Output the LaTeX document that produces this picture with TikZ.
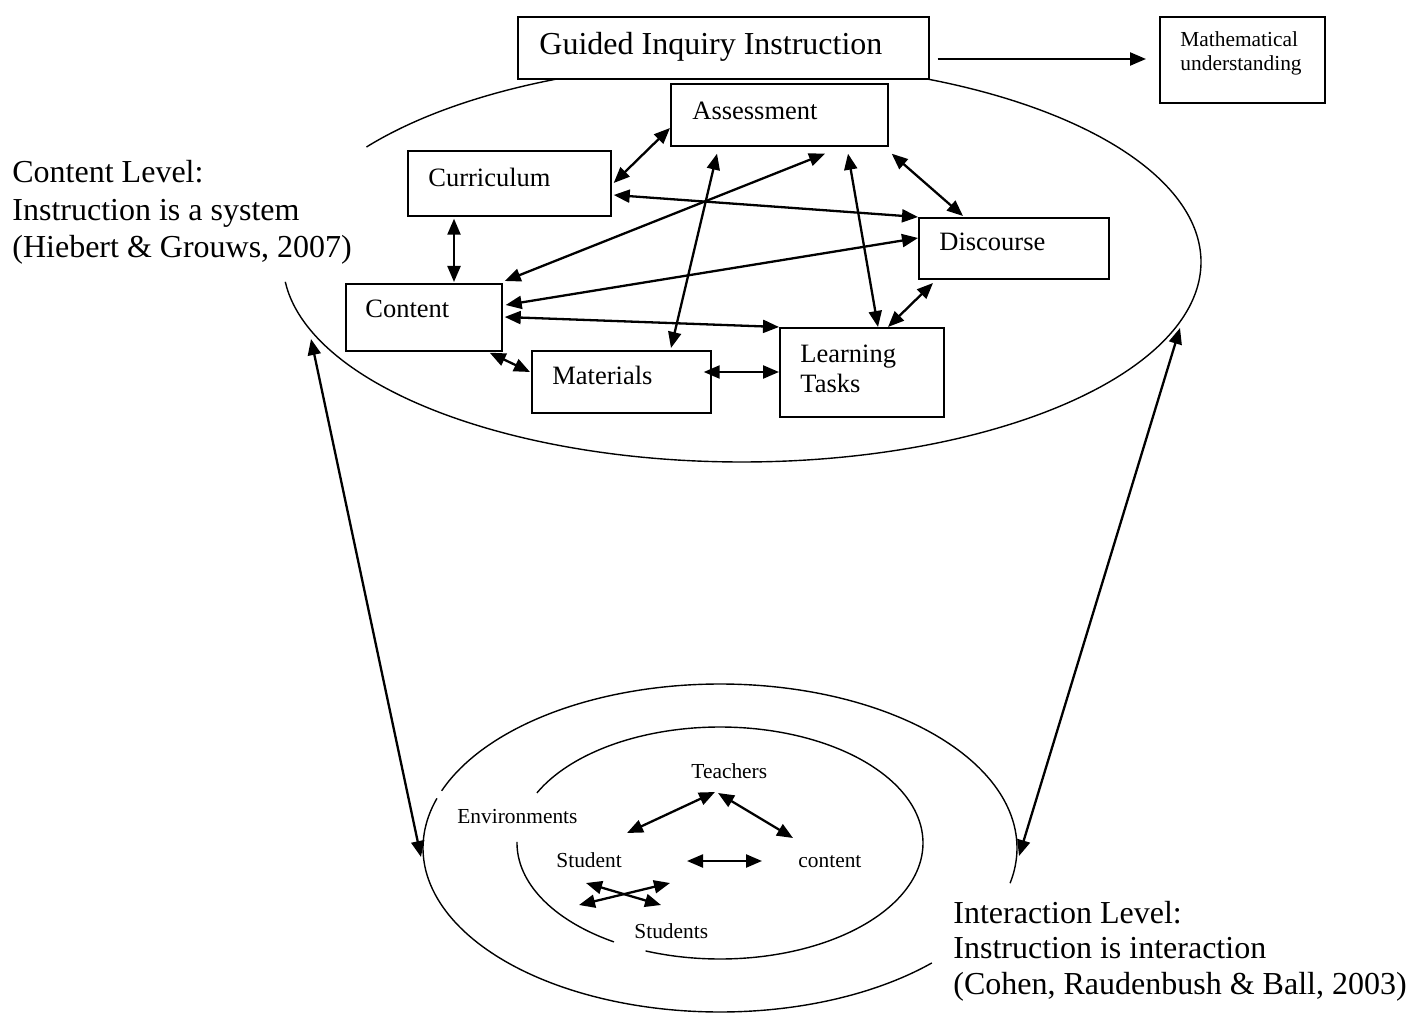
\documentclass[tikz,border=0pt]{standalone}
\usepackage{fontspec}
\setmainfont{Liberation Serif}
\usetikzlibrary{arrows.meta,calc}
\begin{document}
\begin{tikzpicture}[x=0.5pt,y=-0.5pt,
  box/.style={draw,line width=0.85pt,fill=white,rectangle,inner sep=0pt,anchor=north west},
  txt/.style={inner sep=0pt,anchor=base west},
  big/.style={txt,font=\fontsize{16}{18}\selectfont},
  mid/.style={txt,font=\fontsize{13.25}{15}\selectfont},
  small/.style={txt,font=\fontsize{10.7}{12}\selectfont},
  link/.style={line width=1.15pt,{Triangle[length=8pt,width=6.5pt]}-{Triangle[length=8pt,width=6.5pt]}},
  one/.style={line width=1.15pt,-{Triangle[length=8pt,width=6.5pt]}},
  rim/.style={line width=0.7pt}]
\useasboundingbox (0,0) rectangle (1423,1015);

% ---- ellipses (drawn with gaps where text boxes cover them)
\draw[rim] plot[domain=-66.9:174.3,samples=140,smooth] ({742+459*cos(\x)},{262+200*sin(\x)});
\draw[rim] plot[domain=215.1:246.9,samples=30,smooth] ({742+459*cos(\x)},{262+200*sin(\x)});
\draw[rim] plot[domain=44.5:197.6,samples=100,smooth] ({720+297*cos(\x)},{848+164*sin(\x)});
\draw[rim] plot[domain=200.4:372.4,samples=100,smooth] ({720+297*cos(\x)},{848+164*sin(\x)});
\draw[rim] plot[domain=121.5:180.5,samples=40,smooth] ({720+203*cos(\x)},{843+116*sin(\x)});
\draw[rim] plot[domain=205.6:471.5,samples=140,smooth] ({720+203*cos(\x)},{843+116*sin(\x)});

% ---- boxes
\node[box,minimum width=205.5pt,minimum height=31pt] (guided) at (517,16) {};
\node[box,minimum width=82.5pt,minimum height=43pt] (math) at (1159,16) {};
\node[box,minimum width=108.5pt,minimum height=31pt] (assess) at (670,83) {};
\node[box,minimum width=101.5pt,minimum height=32.5pt] (curr) at (407,150) {};
\node[box,minimum width=95pt,minimum height=30.5pt] (disc) at (918,217) {};
\node[box,minimum width=78pt,minimum height=33.5pt] (content) at (345,283) {};
\node[box,minimum width=89.5pt,minimum height=31pt] (mat) at (531,350) {};
\node[box,minimum width=82pt,minimum height=44.5pt] (lt) at (779,327) {};

% ---- box texts
\node[big] (guidedT) at (539,55) {Guided Inquiry Instruction};
\node[small] (mathT1) at (1180,47) {Mathematical};
\node[small] (mathT2) at (1180,71) {understanding};
\node[mid] (assessT) at (692,120) {Assessment};
\node[mid] (currT) at (428,187) {Curriculum};
\node[mid] (discT) at (939,251) {Discourse};
\node[mid] (contentT) at (365,318) {Content};
\node[mid] (matT) at (552,385) {Materials};
\node[mid] (ltT1) at (800,363) {Learning};
\node[mid] (ltT2) at (800,393) {Tasks};

% ---- side texts
\node[big] (cl1) at (12,183) {Content Level:};
\node[big] (cl2) at (12,221) {Instruction is a system};
\node[big] (cl3) at (12,258) {(Hiebert \& Grouws, 2007)};
\node[big] (il1) at (953,923) {Interaction Level:};
\node[big] (il2) at (953,958) {Instruction is interaction};
\node[big] (il3) at (953,994) {(Cohen, Raudenbush \& Ball, 2003)};

% ---- inner texts
\node[small] (teachersT) at (691,778) {Teachers};
\node[small] (envT) at (457,823) {Environments};
\node[small] (studentT) at (556,867) {Student};
\node[small] (contentS) at (798,867) {content};
\node[small] (studentsT) at (634,938) {Students};

% ---- connectors among boxes
\draw[one] ($(guided.north east)+(8,43)$) -- ($(math.north west)+(-13,43)$);
\draw[link] ($(assess.north west)+(0,45)$) -- ($(curr.north east)+(2,33)$);
\draw[link] ($(curr.north east)+(2,45)$) -- (disc.north west);
\draw[link] ($(curr.south west)+(47,2)$) -- ($(content.north west)+(109,-1)$);
\draw[link] ($(content.north east)+(2,-2)$) -- ($(assess.south west)+(155,7)$);
\draw[link] ($(content.north east)+(3,22)$) -- ($(disc.north west)+(0,21)$);
\draw[link] ($(content.north east)+(2,34)$) -- (lt.north west);
\draw[link] ($(content.south east)+(-13,1)$) -- ($(mat.north west)+(-1,22)$);
\draw[link] ($(mat.north east)+(-8,22)$) -- ($(lt.north west)+(0,45)$);
\draw[link] ($(mat.north west)+(140,-2)$) -- ($(assess.south west)+(47,7)$);
\draw[link] ($(lt.north west)+(99,0)$) -- ($(assess.south west)+(178,7)$);
\draw[link] ($(disc.north west)+(45,-1)$) -- ($(assess.south east)+(3,7)$);
\draw[link] ($(disc.north west)+(15,66)$) -- ($(lt.north west)+(109,0)$);

% ---- long connectors between the levels
\coordinate (eL) at (311,339);
\coordinate (oL) at (421,857);
\coordinate (eR) at (1180,328);
\coordinate (oR) at (1019,856);
\draw[link] (eL) -- (oL);
\draw[link] (eR) -- (oR);

% ---- connectors of the interaction level
\draw[link] ($(studentT.base west)+(71,-34)$) -- ($(teachersT.base west)+(24,14)$);
\draw[link] ($(teachersT.base west)+(27,15)$) -- ($(contentS.base west)+(-5,-29)$);
\draw[link] ($(studentT.base west)+(131,-6)$) -- ($(contentS.base west)+(-36,-6)$);
\draw[link] ($(studentT.base west)+(30,16)$) -- ($(studentsT.base west)+(27,-33)$);
\draw[link] ($(studentsT.base west)+(-55,-33)$) -- ($(studentT.base west)+(114,16)$);
\end{tikzpicture}
\end{document}
